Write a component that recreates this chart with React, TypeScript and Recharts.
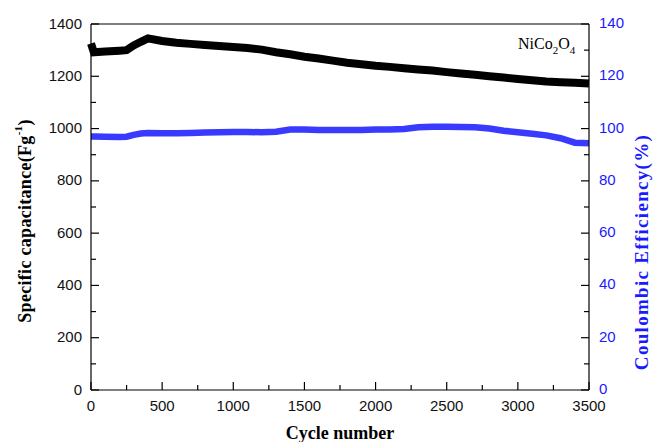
import React from 'react'
import {
  ComposedChart,
  Line,
  XAxis,
  YAxis,
  ReferenceLine,
} from 'recharts'

const cycles = [
  0, 20, 100, 200, 250, 300, 350, 400, 500, 600, 700, 800, 900, 1000, 1100, 1200,
  1300, 1400, 1500, 1600, 1700, 1800, 1900, 2000, 2100, 2200, 2300, 2400, 2500,
  2600, 2700, 2800, 2900, 3000, 3100, 3200, 3300, 3400, 3500,
]
const capacitance = [
  1325, 1292, 1295, 1298, 1300, 1318, 1332, 1345, 1335, 1328, 1324, 1320, 1316,
  1312, 1308, 1302, 1292, 1284, 1275, 1268, 1260, 1252, 1246, 1240, 1236, 1231,
  1226, 1222, 1216, 1211, 1206, 1200, 1195, 1190, 1185, 1180, 1177, 1175, 1172,
]
const efficiency = [
  97.0, 97.0, 96.9, 96.8, 96.9, 97.6, 98.1, 98.3, 98.2, 98.2, 98.3, 98.5, 98.6,
  98.7, 98.7, 98.6, 98.8, 99.6, 99.6, 99.5, 99.5, 99.5, 99.5, 99.6, 99.6, 99.8,
  100.5, 100.7, 100.7, 100.6, 100.5, 100.0, 99.2, 98.6, 98.0, 97.4, 96.3, 94.6, 94.4,
]

const xTicks = [0, 250, 500, 750, 1000, 1250, 1500, 1750, 2000, 2250, 2500, 2750, 3000, 3250, 3500]
const leftTicks = [0, 100, 200, 300, 400, 500, 600, 700, 800, 900, 1000, 1100, 1200, 1300, 1400]
const rightTicks = [0, 10, 20, 30, 40, 50, 60, 70, 80, 90, 100, 110, 120, 130, 140]

const data = cycles.map((c, i) => ({
  cycle: c,
  cap: capacitance[i],
  ce: efficiency[i],
}))

const SANS = '"Liberation Sans", Arial, sans-serif'
const SERIF = '"Liberation Serif", "Times New Roman", serif'
const BLUE = '#3a3aff'
const MARGIN = 9

function LeftTick(props: any) {
  const { x, y, payload } = props
  const major = payload.value % 200 === 0
  const ax = x + MARGIN
  return (
    <g>
      <line x1={ax} x2={ax + (major ? 8 : 5)} y1={y} y2={y} stroke="#000" strokeWidth={1.2} />
      {major && (
        <text x={x} y={y + 4.5} textAnchor="end" fontFamily={SANS} fontSize={15} fill="#111">
          {payload.value}
        </text>
      )}
    </g>
  )
}

function RightTick(props: any) {
  const { x, y, payload } = props
  const major = payload.value % 20 === 0
  const ax = x - MARGIN
  return (
    <g>
      <line x1={ax} x2={ax - (major ? 8 : 5)} y1={y} y2={y} stroke="#000" strokeWidth={1.2} />
      {major && (
        <text x={x + 1} y={y + 4} textAnchor="start" fontFamily={SANS} fontSize={15} fill="#1a1aff">
          {payload.value}
        </text>
      )}
    </g>
  )
}

function BottomTick(props: any) {
  const { x, y, payload } = props
  const major = payload.value % 500 === 0
  const ay = y - MARGIN
  return (
    <g>
      <line x1={x} x2={x} y1={ay} y2={ay - (major ? 8 : 5)} stroke="#000" strokeWidth={1.2} />
      {major && (
        <text x={x} y={y + 12} textAnchor="middle" fontFamily={SANS} fontSize={15} fill="#111">
          {payload.value}
        </text>
      )}
    </g>
  )
}

function LeftTitle(props: any) {
  const { viewBox } = props
  const cx = viewBox.x + 25
  const cy = viewBox.y + viewBox.height / 2 + 14
  return (
    <text
      x={cx}
      y={cy}
      transform={`rotate(-90 ${cx} ${cy})`}
      textAnchor="middle"
      dominantBaseline="central"
      fontFamily={SERIF}
      fontWeight="bold"
      fontSize={18}
      letterSpacing={0.3}
      fill="#000"
    >
      Specific capacitance(Fg
      <tspan dy={-7} fontSize={11}>-1</tspan>
      <tspan dy={7}>)</tspan>
    </text>
  )
}

function RightTitle(props: any) {
  const { viewBox } = props
  const cx = viewBox.x + 52
  const cy = viewBox.y + viewBox.height / 2 + 45
  return (
    <text
      x={cx}
      y={cy}
      transform={`rotate(-90 ${cx} ${cy})`}
      textAnchor="middle"
      dominantBaseline="central"
      fontFamily={SERIF}
      fontWeight="bold"
      fontSize={19}
      letterSpacing={1.3}
      fill="#1a1aff"
    >
      Coulombic Efficiency(%)
    </text>
  )
}

export default function App() {
  return (
    <div style={{ position: 'absolute', left: 0, top: 0, background: '#fff' }}>
      <ComposedChart
        width={656}
        height={442}
        data={data}
        margin={{ top: 24, right: 0, bottom: 0, left: 0 }}
      >
        <XAxis
          dataKey="cycle"
          type="number"
          domain={[0, 3500]}
          ticks={xTicks}
          interval={0}
          height={52}
          tickSize={0}
          tickMargin={MARGIN}
          tickLine={false}
          axisLine={{ stroke: '#000', strokeWidth: 1.2 }}
          tick={<BottomTick />}
          label={{
            value: 'Cycle number',
            position: 'insideBottom',
            offset: 3,
            style: { fontFamily: SERIF, fontWeight: 'bold', fontSize: 18, fill: '#000' },
          }}
        />
        <YAxis
          yAxisId="left"
          orientation="left"
          domain={[0, 1400]}
          ticks={leftTicks}
          interval={0}
          width={91}
          tickSize={0}
          tickMargin={MARGIN}
          tickLine={false}
          axisLine={{ stroke: '#000', strokeWidth: 1.2 }}
          tick={<LeftTick />}
          label={<LeftTitle />}
        />
        <YAxis
          yAxisId="right"
          orientation="right"
          domain={[0, 140]}
          ticks={rightTicks}
          interval={0}
          width={67}
          tickSize={0}
          tickMargin={MARGIN}
          tickLine={false}
          axisLine={{ stroke: '#000', strokeWidth: 1.2 }}
          tick={<RightTick />}
          label={<RightTitle />}
        />
        <ReferenceLine yAxisId="left" y={1400} stroke="#000" strokeWidth={1.2} />
        <Line
          yAxisId="right"
          dataKey="ce"
          type="linear"
          stroke={BLUE}
          strokeWidth={6.5}
          dot={false}
          isAnimationActive={false}
        />
        <Line
          yAxisId="left"
          dataKey="cap"
          type="linear"
          stroke="#000"
          strokeWidth={8}
          strokeLinecap="butt"
          dot={false}
          isAnimationActive={false}
        />
        <text x={518} y={49} fontFamily={SERIF} fontSize={16} fill="#000">
          NiCo
          <tspan dy={5} fontSize={11}>2</tspan>
          <tspan dy={-5}>O</tspan>
          <tspan dy={5} fontSize={11}>4</tspan>
        </text>
      </ComposedChart>
    </div>
  )
}
